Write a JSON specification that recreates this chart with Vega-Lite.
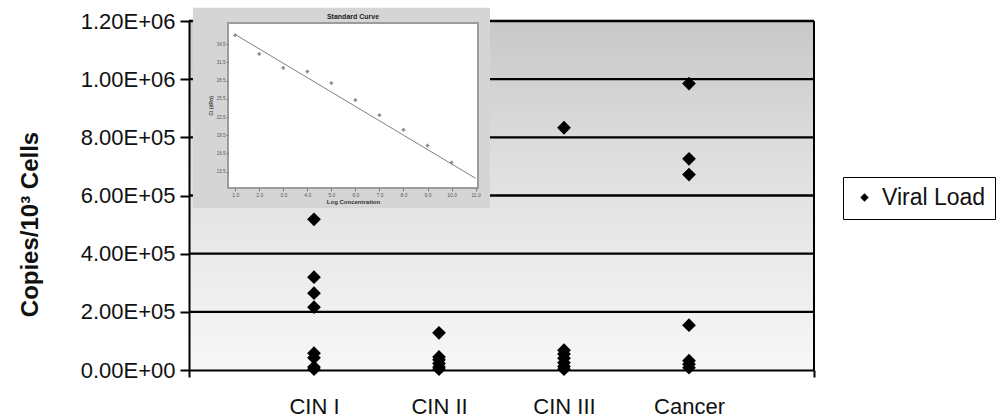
{
  "$schema": "https://vega.github.io/schema/vega-lite/v6.json",
  "width": 625,
  "height": 349,
  "autosize": {"type": "none"},
  "padding": {"left": 189, "top": 21, "right": 183, "bottom": 49},
  "background": "white",
  "config": {"view": {"stroke": null}, "font": "Liberation Sans"},
  "datasets": {
    "viral": [
      {"grade": "CIN I", "pos": 1, "load": 518000, "series": "Viral Load"},
      {"grade": "CIN I", "pos": 1, "load": 319000, "series": "Viral Load"},
      {"grade": "CIN I", "pos": 1, "load": 264000, "series": "Viral Load"},
      {"grade": "CIN I", "pos": 1, "load": 216000, "series": "Viral Load"},
      {"grade": "CIN I", "pos": 1, "load": 58000, "series": "Viral Load"},
      {"grade": "CIN I", "pos": 1, "load": 42000, "series": "Viral Load"},
      {"grade": "CIN I", "pos": 1, "load": 10000, "series": "Viral Load"},
      {"grade": "CIN I", "pos": 1, "load": 3000, "series": "Viral Load"},
      {"grade": "CIN II", "pos": 2, "load": 128000, "series": "Viral Load"},
      {"grade": "CIN II", "pos": 2, "load": 45000, "series": "Viral Load"},
      {"grade": "CIN II", "pos": 2, "load": 35000, "series": "Viral Load"},
      {"grade": "CIN II", "pos": 2, "load": 22000, "series": "Viral Load"},
      {"grade": "CIN II", "pos": 2, "load": 10000, "series": "Viral Load"},
      {"grade": "CIN II", "pos": 2, "load": 3000, "series": "Viral Load"},
      {"grade": "CIN III", "pos": 3, "load": 833000, "series": "Viral Load"},
      {"grade": "CIN III", "pos": 3, "load": 68000, "series": "Viral Load"},
      {"grade": "CIN III", "pos": 3, "load": 55000, "series": "Viral Load"},
      {"grade": "CIN III", "pos": 3, "load": 40000, "series": "Viral Load"},
      {"grade": "CIN III", "pos": 3, "load": 25000, "series": "Viral Load"},
      {"grade": "CIN III", "pos": 3, "load": 12000, "series": "Viral Load"},
      {"grade": "CIN III", "pos": 3, "load": 3000, "series": "Viral Load"},
      {"grade": "Cancer", "pos": 4, "load": 985000, "series": "Viral Load"},
      {"grade": "Cancer", "pos": 4, "load": 726000, "series": "Viral Load"},
      {"grade": "Cancer", "pos": 4, "load": 672000, "series": "Viral Load"},
      {"grade": "Cancer", "pos": 4, "load": 154000, "series": "Viral Load"},
      {"grade": "Cancer", "pos": 4, "load": 32000, "series": "Viral Load"},
      {"grade": "Cancer", "pos": 4, "load": 20000, "series": "Viral Load"},
      {"grade": "Cancer", "pos": 4, "load": 8000, "series": "Viral Load"}
    ],
    "curve": [
      {"logc": 1, "ct": 36.0},
      {"logc": 2, "ct": 32.9},
      {"logc": 3, "ct": 30.6},
      {"logc": 4, "ct": 30.0},
      {"logc": 5, "ct": 28.1},
      {"logc": 6, "ct": 25.3},
      {"logc": 7, "ct": 22.8},
      {"logc": 8, "ct": 20.4},
      {"logc": 9, "ct": 17.8},
      {"logc": 10, "ct": 15.0}
    ],
    "fit": [
      {"logc": 1, "ct": 36.1},
      {"logc": 11, "ct": 12.4}
    ]
  },
  "layer": [
    {
      "layer": [
        {
          "data": {"values": [{}]},
          "mark": {"type": "rect", "fill": {"gradient": "linear", "x1": 0, "y1": 0, "x2": 0, "y2": 1, "stops": [{"offset": 0, "color": "#c8c8c8"}, {"offset": 0.35, "color": "#dcdcdc"}, {"offset": 0.7, "color": "#ebebeb"}, {"offset": 1, "color": "#f7f7f7"}]}},
          "encoding": {
            "x": {"datum": 0, "type": "quantitative", "title": null, "scale": {"domain": [0, 5], "nice": false, "zero": false}},
            "x2": {"datum": 5},
            "y": {"datum": 0, "type": "quantitative", "title": "Copies/10³ Cells", "scale": {"domain": [0, 1200000], "nice": false}},
            "y2": {"datum": 1200000}
          }
        },
        {
          "data": {"values": [{"g": 200000}, {"g": 400000}, {"g": 600000}, {"g": 800000}, {"g": 1000000}, {"g": 1200000}]},
          "mark": {"type": "rule", "color": "black", "strokeWidth": 2.4},
          "encoding": {
            "y": {"field": "g", "type": "quantitative", "title": "Copies/10³ Cells", "scale": {"domain": [0, 1200000], "nice": false}}
          }
        },
        {
          "data": {"values": [{"b": 5}]},
          "mark": {"type": "rule", "color": "black", "strokeWidth": 2},
          "encoding": {
            "x": {"field": "b", "type": "quantitative", "title": null, "scale": {"domain": [0, 5], "nice": false, "zero": false}}
          }
        },
        {
          "data": {"name": "viral"},
          "mark": {"type": "point", "filled": true, "color": "black", "size": 190, "opacity": 1},
          "encoding": {
            "x": {
              "field": "pos", "type": "quantitative", "title": null,
              "scale": {"domain": [0, 5], "nice": false, "zero": false},
              "axis": {
                "values": [0, 1, 2, 3, 4, 5],
                "labelExpr": "['','CIN I','CIN II','CIN III','Cancer',''][datum.value]",
                "grid": false, "domainColor": "black", "domainWidth": 2,
                "tickColor": "black", "tickWidth": 2, "tickSize": 7,
                "tickOpacity": {"condition": {"test": "datum.value == 0 || datum.value == 5", "value": 1}, "value": 0},
                "labelFontSize": 22, "labelColor": "#111", "labelPadding": 19,
                "labelFont": "Liberation Sans", "labelFlush": false, "labelOverlap": false, "zindex": 1
              }
            },
            "y": {
              "field": "load", "type": "quantitative", "title": "Copies/10³ Cells",
              "scale": {"domain": [0, 1200000], "nice": false},
              "axis": {
                "values": [0, 200000, 400000, 600000, 800000, 1000000, 1200000],
                "labelExpr": "['0.00E+00','2.00E+05','4.00E+05','6.00E+05','8.00E+05','1.00E+06','1.20E+06'][round(datum.value/200000)]",
                "grid": false, "domainColor": "black", "domainWidth": 2,
                "tickColor": "black", "tickWidth": 2, "tickSize": 9,
                "labelFontSize": 22, "labelColor": "#111", "labelPadding": 5, "labelFont": "Liberation Sans",
                "labelOverlap": false,
                "titleFontSize": 24, "titleFontWeight": "bold", "titleColor": "#111", "titleFont": "Liberation Sans",
                "titleX": -159, "titleY": 203, "titleAngle": 270, "titleAlign": "center", "titleBaseline": "middle",
                "zindex": 1
              }
            },
            "shape": {
              "field": "series", "type": "nominal",
              "scale": {"range": ["diamond"]},
              "legend": {
                "orient": "none", "legendX": 654, "legendY": 156, "title": null,
                "strokeColor": "black", "fillColor": "white", "padding": 9,
                "symbolType": "diamond", "symbolSize": 70, "symbolFillColor": "black", "symbolStrokeColor": "black", "symbolStrokeWidth": 0,
                "symbolOffset": 1, "labelOffset": 6,
                "labelFontSize": 23, "labelFont": "Liberation Sans", "labelColor": "#111"
              }
            }
          }
        }
      ]
    },
    {
      "layer": [
        {
          "data": {"values": [{}]},
          "mark": {"type": "rect", "fill": "#d5d5d5"},
          "encoding": {
            "x": {"datum": -0.76, "type": "quantitative", "title": "Log Concentration", "scale": {"domain": [0.7, 11.1], "range": [39, 289], "nice": false, "zero": false}},
            "x2": {"datum": 11.6},
            "y": {"datum": 7.5, "type": "quantitative", "title": "Ct (dRn)", "scale": {"domain": [10.8, 38], "range": [167, 2], "nice": false, "zero": false}},
            "y2": {"datum": 40.5}
          }
        },
        {
          "data": {"values": [{}]},
          "mark": {"type": "rect", "fill": "white", "stroke": "#9c9c9c", "strokeWidth": 2},
          "encoding": {
            "x": {
              "datum": 0.7, "type": "quantitative", "title": "Log Concentration",
              "scale": {"domain": [0.7, 11.1], "range": [39, 289], "nice": false, "zero": false},
              "axis": {
                "orient": "bottom", "offset": -182, "values": [1, 2, 3, 4, 5, 6, 7, 8, 9, 10, 11],
                "domain": false, "grid": false, "tickSize": 3, "tickColor": "#777", "tickWidth": 1,
                "labelFontSize": 5, "labelColor": "#555", "labelPadding": 1, "labelFlush": false, "labelOverlap": false,
                "titleFontSize": 6, "titleFontWeight": "bold", "titleColor": "#333", "titlePadding": 1, "zindex": 1
              }
            },
            "x2": {"datum": 11.1},
            "y": {
              "datum": 10.8, "type": "quantitative", "title": "Ct (dRn)",
              "scale": {"domain": [10.8, 38], "range": [167, 2], "nice": false, "zero": false},
              "axis": {
                "orient": "left", "offset": -39,
                "values": [13.5, 15, 16.5, 18, 19.5, 21, 22.5, 24, 25.5, 27, 28.5, 30, 31.5, 33, 34.5, 36],
                "format": ".1f", "domain": false, "grid": false, "tickSize": 2, "tickColor": "#777", "tickWidth": 1,
                "labelFontSize": 4.5, "labelColor": "#555", "labelPadding": 1, "labelOverlap": false,
                "titleFontSize": 5, "titleFontWeight": "bold", "titleColor": "#444", "titlePadding": 3, "zindex": 1
              }
            },
            "y2": {"datum": 38}
          }
        },
        {
          "data": {"name": "fit"},
          "mark": {"type": "line", "color": "#808080", "strokeWidth": 1},
          "encoding": {
            "x": {"field": "logc", "type": "quantitative", "title": "Log Concentration", "scale": {"domain": [0.7, 11.1], "range": [39, 289], "nice": false, "zero": false}},
            "y": {"field": "ct", "type": "quantitative", "title": "Ct (dRn)", "scale": {"domain": [10.8, 38], "range": [167, 2], "nice": false, "zero": false}}
          }
        },
        {
          "data": {"name": "curve"},
          "mark": {"type": "point", "shape": "cross", "filled": true, "color": "#8a8a8a", "size": 14, "opacity": 1},
          "encoding": {
            "x": {"field": "logc", "type": "quantitative", "title": "Log Concentration", "scale": {"domain": [0.7, 11.1], "range": [39, 289], "nice": false, "zero": false}},
            "y": {"field": "ct", "type": "quantitative", "title": "Ct (dRn)", "scale": {"domain": [10.8, 38], "range": [167, 2], "nice": false, "zero": false}}
          }
        },
        {
          "data": {"values": [{"t": "Standard Curve"}]},
          "mark": {"type": "text", "fontSize": 7, "fontWeight": "bold", "color": "#222", "align": "center", "baseline": "middle"},
          "encoding": {
            "text": {"field": "t"},
            "x": {"datum": 5.9, "type": "quantitative", "title": "Log Concentration", "scale": {"domain": [0.7, 11.1], "range": [39, 289], "nice": false, "zero": false}},
            "y": {"datum": 39.0, "type": "quantitative", "title": "Ct (dRn)", "scale": {"domain": [10.8, 38], "range": [167, 2], "nice": false, "zero": false}}
          }
        }
      ]
    }
  ],
  "resolve": {"scale": {"x": "independent", "y": "independent"}, "axis": {"x": "independent", "y": "independent"}}
}
